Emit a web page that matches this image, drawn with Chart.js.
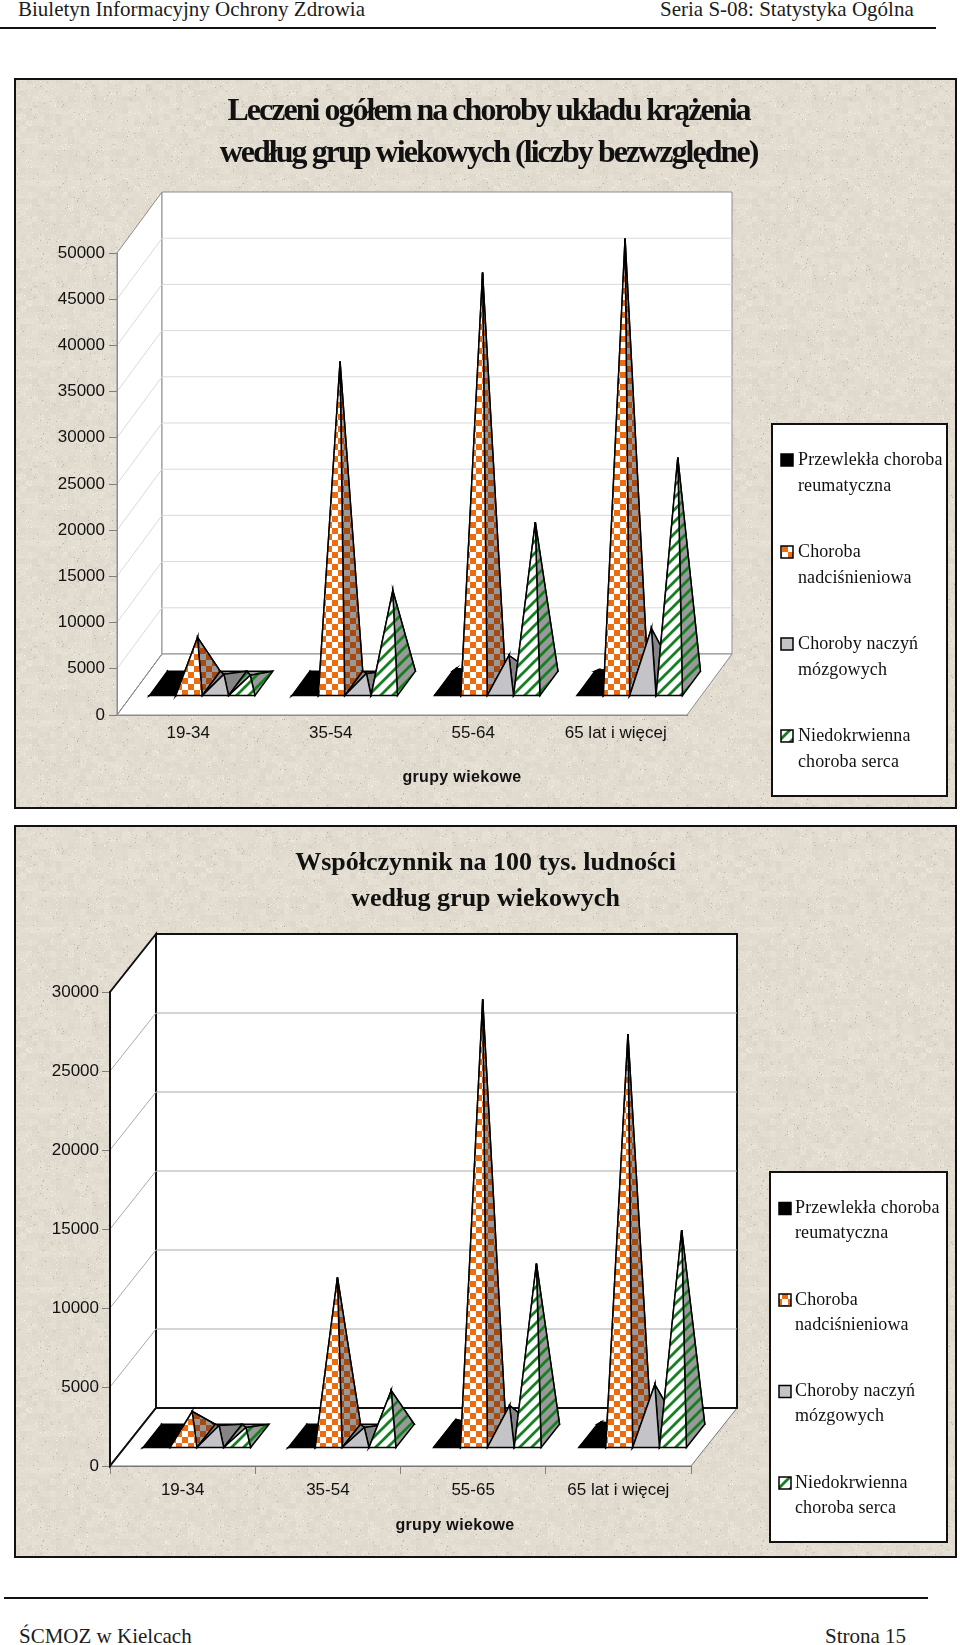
<!DOCTYPE html>
<html>
<head>
<meta charset="utf-8">
<title>Leczeni na choroby układu krążenia</title>
<script src="https://cdn.jsdelivr.net/npm/chart.js@4/dist/chart.umd.js"></script>
<style>
	html, body { margin: 0; padding: 0; background: #fff; overflow: hidden; }
	body { width: 960px; height: 1645px; position: relative; }
	canvas { position: absolute; left: 14px; }
	#absolute { top: 78px; }
	#rate { top: 825px; }
	.txt { position: absolute; font-family: "Liberation Serif", serif; font-size: 21px; line-height: 24px; color: #1c1c1c; white-space: nowrap; }
	.rule { position: absolute; height: 2px; background: #111; }
</style>
</head>
<body>
<div class="txt" style="left:18px;top:-3px">Biuletyn Informacyjny Ochrony Zdrowia</div>
<div class="txt" style="left:660px;top:-3px">Seria S-08: Statystyka Ogólna</div>
<div class="rule" style="left:0;top:27px;width:936px"></div>
<canvas id="absolute" width="943" height="731"></canvas>
<canvas id="rate" width="943" height="733"></canvas>
<div class="rule" style="left:4px;top:1597px;width:924px"></div>
<div class="txt" style="left:19px;top:1624px">ŚCMOZ w Kielcach</div>
<div class="txt" style="left:825px;top:1624px">Strona 15</div>
<script>
var seriesNames = [
	["Przewlekła choroba", "reumatyczna"],
	["Choroba", "nadciśnieniowa"],
	["Choroby naczyń", "mózgowych"],
	["Niedokrwienna", "choroba serca"]
];
var axisName = "grupy wiekowe";

// top chart
var ages1 = ["19-34", "35-54", "55-64", "65 lat i więcej"];
var title1 = ["Leczeni ogółem na choroby układu krążenia", "według grup wiekowych (liczby bezwzględne)"];
var rheum1 = [100, 300, 1730, 1600];
var hyper1 = [5090, 34960, 44590, 48270];
var cerebro1 = [1100, 1200, 3140, 6060];
var ischemic1 = [1000, 10170, 17580, 24560];

// bottom chart
var ages2 = ["19-34", "35-54", "55-65", "65 lat i więcej"];
var title2 = ["Współczynnik na 100 tys. ludności", "według grup wiekowych"];
var rheum2 = [50, 100, 1100, 940];
var hyper2 = [1615, 10100, 27700, 25500];
var cerebro2 = [730, 600, 2000, 3320];
var ischemic2 = [600, 2940, 10980, 13100];

function hash(x, y) {
	var s = Math.sin(x * 12.9898 + y * 78.233) * 43758.5453;
	return s - Math.floor(s);
}

function makeTile(size, paint) {
	var c = document.createElement("canvas");
	c.width = c.height = size;
	paint(c.getContext("2d"), size);
	return c;
}

// paper background of both panels
function paperPattern(ctx) {
	var tile = makeTile(180, function(t, size) {
		var img = t.createImageData(size, size);
		for (var y = 0; y < size; y++) {
			for (var x = 0; x < size; x++) {
				var n = hash(x, y);
				var b = hash(Math.floor(x / 6), Math.floor(y / 6));
				var v = 221 + (n - 0.5) * 6 + (b - 0.5) * 8;
				if (n > 0.98) v += 16;
				if (n < 0.006) v -= 36;
				var i = (y * size + x) * 4;
				img.data[i] = v + 5;
				img.data[i + 1] = v - 1;
				img.data[i + 2] = v - 13;
				img.data[i + 3] = 255;
			}
		}
		t.putImageData(img, 0, 0);
	});
	return ctx.createPattern(tile, "repeat");
}

function checkPattern(ctx, a, b) {
	return ctx.createPattern(makeTile(12, function(t, s) {
		t.fillStyle = b;
		t.fillRect(0, 0, s, s);
		t.fillStyle = a;
		t.fillRect(0, 0, s / 2, s / 2);
		t.fillRect(s / 2, s / 2, s / 2, s / 2);
	}), "repeat");
}

function stripePattern(ctx, a, b) {
	return ctx.createPattern(makeTile(12, function(t, s) {
		t.fillStyle = b;
		t.fillRect(0, 0, s, s);
		t.strokeStyle = a;
		t.lineWidth = 2.8;
		t.beginPath();
		t.moveTo(-3, 3); t.lineTo(3, -3);
		t.moveTo(-3, 15); t.lineTo(15, -3);
		t.moveTo(9, 15); t.lineTo(15, 9);
		t.stroke();
	}), "repeat");
}

function faceFills(ctx) {
	return [
		{ front: "#000", side: "#000" },
		{ front: checkPattern(ctx, "#ee6c10", "#fff"), side: checkPattern(ctx, "#a64a12", "#999999") },
		{ front: "#c4c4c8", side: "#858585" },
		{ front: stripePattern(ctx, "#158021", "#fff"), side: stripePattern(ctx, "#158021", "#999999") }
	];
}

function poly(ctx, pts, fill) {
	ctx.beginPath();
	ctx.moveTo(pts[0][0], pts[0][1]);
	for (var i = 1; i < pts.length; i++) ctx.lineTo(pts[i][0], pts[i][1]);
	ctx.closePath();
	if (fill) {
		ctx.fillStyle = fill;
		ctx.fill();
	}
	ctx.stroke();
}

// walls and floor behind the marks, using the y scale for the grid
var wallsPlugin = {
	id: "walls",
	beforeDraw: function(chart, args, o) {
		var ctx = chart.ctx, a = chart.chartArea, y = chart.scales.y;
		ctx.save();
		ctx.fillStyle = paperPattern(ctx);
		ctx.fillRect(0, 0, chart.width, chart.height);
		ctx.strokeStyle = "#111";
		ctx.lineWidth = 2;
		ctx.strokeRect(1, 1, chart.width - 2, chart.height - 2);

		ctx.lineWidth = o.wallWidth;
		ctx.strokeStyle = o.wallColor;
		poly(ctx, [[a.left, a.bottom], [a.left + o.dx, a.bottom + o.dy], [a.left + o.dx, a.top + o.dy], [a.left, a.top]], "#fff");
		poly(ctx, [[a.left + o.dx, a.bottom + o.dy], [a.right + o.dx, a.bottom + o.dy], [a.right + o.dx, a.top + o.dy], [a.left + o.dx, a.top + o.dy]], "#fff");

		ctx.lineWidth = 1;
		ctx.strokeStyle = o.gridColor;
		ctx.beginPath();
		for (var i = 1; i < y.ticks.length - 1; i++) {
			var p = y.getPixelForTick(i);
			ctx.moveTo(a.left, p);
			ctx.lineTo(a.left + o.dx, p + o.dy);
			ctx.lineTo(a.right + o.dx, p + o.dy);
		}
		ctx.stroke();

		ctx.lineWidth = o.floorWidth;
		ctx.strokeStyle = o.floorColor;
		ctx.fillStyle = "#fff";
		ctx.beginPath();
		ctx.moveTo(a.left, a.bottom);
		ctx.lineTo(a.right, a.bottom);
		ctx.lineTo(a.right + o.dx, a.bottom + o.dy);
		ctx.lineTo(a.left + o.dx, a.bottom + o.dy);
		ctx.closePath();
		ctx.fill();
		ctx.beginPath();
		ctx.moveTo(a.left + o.dx, a.bottom + o.dy);
		ctx.lineTo(a.left, a.bottom);
		ctx.lineTo(a.right, a.bottom);
		ctx.lineTo(a.right + o.dx, a.bottom + o.dy);
		ctx.stroke();
		ctx.lineWidth = o.wallWidth;
		ctx.strokeStyle = o.wallColor;
		ctx.beginPath();
		ctx.moveTo(a.left + o.dx, a.bottom + o.dy);
		ctx.lineTo(a.right + o.dx, a.bottom + o.dy);
		ctx.moveTo(a.left + o.dx, a.bottom + o.dy);
		ctx.lineTo(a.left, a.bottom);
		ctx.stroke();
		ctx.restore();
	},
	// title spans the whole panel, not just the padded plot side
	afterLayout: function(chart, args, o) {
		var t = chart.titleBlock;
		t.left = 0;
		t.right = chart.width + o.titleShift * 2;
		if (!t.patched) {
			var draw = t.draw;
			t.draw = function() {
				chart.ctx.letterSpacing = o.titleSpacing;
				draw.call(t);
				chart.ctx.letterSpacing = "0px";
			};
			t.patched = true;
		}
	}
};

// 3D pyramids placed on the bar elements that the scales have positioned
var pyramidPlugin = {
	id: "pyramids",
	afterDatasetsDraw: function(chart, args, o) {
		var ctx = chart.ctx, fills = faceFills(ctx), f0 = 0.31, f1 = 0.71;
		ctx.save();
		ctx.strokeStyle = "#000";
		ctx.lineWidth = 1.5;
		ctx.lineJoin = "miter";
		for (var i = 0; i < chart.data.labels.length; i++) {
			chart.data.datasets.forEach(function(ds, d) {
				var el = chart.getDatasetMeta(d).data[i];
				var l = el.x - el.width / 2, r = el.x + el.width / 2;
				var fl = [l + o.dx * f0, el.base + o.dy * f0], fr = [r + o.dx * f0, el.base + o.dy * f0];
				var bl = [l + o.dx * f1, el.base + o.dy * f1], br = [r + o.dx * f1, el.base + o.dy * f1];
				var top = [el.x + o.dx * 0.5, el.y + o.dy * 0.5];
				poly(ctx, [bl, br, top], fills[d].side);
				poly(ctx, [fl, bl, top], fills[d].side);
				poly(ctx, [fr, br, top], fills[d].side);
				poly(ctx, [fl, fr, top], fills[d].front);
			});
		}
		ctx.restore();
	}
};

// axis name and the boxed two line legend
var sidePlugin = {
	id: "side",
	afterDraw: function(chart, args, o) {
		var ctx = chart.ctx, fills = faceFills(ctx);
		ctx.save();
		ctx.fillStyle = "#111";
		ctx.textAlign = "center";
		ctx.textBaseline = "middle";
		ctx.font = "bold 16px 'Liberation Sans'";
		ctx.letterSpacing = "0.35px";
		ctx.fillText(axisName, o.axisX, o.axisY);
		ctx.letterSpacing = "0px";

		ctx.fillStyle = "#fff";
		ctx.strokeStyle = "#111";
		ctx.lineWidth = 2;
		ctx.fillRect(o.boxX, o.boxY, o.boxW, o.boxH);
		ctx.strokeRect(o.boxX, o.boxY, o.boxW, o.boxH);

		ctx.textAlign = "left";
		ctx.font = "18px 'Liberation Serif'";
		ctx.letterSpacing = "0.12px";
		seriesNames.forEach(function(lines, i) {
			var y = o.firstY + i * o.step;
			ctx.fillStyle = fills[i].front;
			ctx.lineWidth = 1.5;
			ctx.strokeStyle = "#000";
			ctx.fillRect(o.boxX + 9, y - 6, 12, 12);
			ctx.strokeRect(o.boxX + 9, y - 6, 12, 12);
			ctx.fillStyle = "#111";
			lines.forEach(function(line, k) {
				ctx.fillText(line, o.boxX + o.textGap, y + k * o.lineH);
			});
		});
		ctx.restore();
	}
};

function drawPanel(id, ages, title, max, step, values, opts) {
	var datasets = values.map(function(v, i) {
		return {
			label: seriesNames[i].join(" "),
			data: v,
			backgroundColor: "transparent",
			borderWidth: 0,
			barPercentage: 1,
			categoryPercentage: 0.74
		};
	});
	var tickFont = { family: "Liberation Sans", size: 17 };
	new Chart(document.getElementById(id), {
		type: "bar",
		data: { labels: ages, datasets: datasets },
		plugins: [wallsPlugin, pyramidPlugin, sidePlugin],
		options: {
			responsive: false,
			animation: false,
			layout: { padding: { left: 0, right: opts.right, top: 0, bottom: 0 } },
			plugins: {
				legend: { display: false },
				tooltip: { enabled: false },
				title: {
					display: true,
					text: title,
					color: "#111",
					font: { family: "Liberation Serif", weight: "bold", size: opts.titleSize, lineHeight: opts.titleLine },
					padding: opts.titlePad
				},
				walls: {
					dx: opts.dx, dy: opts.dy, wallColor: opts.wallColor, wallWidth: opts.wallWidth,
					floorColor: opts.floorColor, floorWidth: 1, gridColor: opts.gridColor,
					titleSpacing: opts.titleSpacing, titleShift: opts.titleShift
				},
				pyramids: { dx: opts.dx, dy: opts.dy },
				side: opts.side
			},
			scales: {
				x: {
					afterFit: function(axis) { axis.height = opts.xHeight; },
					grid: { drawOnChartArea: false, drawTicks: opts.xTicks, tickLength: 8, color: "#808080" },
					border: { display: true, color: opts.floorColor },
					ticks: { font: tickFont, color: "#111", padding: opts.xPad, maxRotation: 0, autoSkip: false }
				},
				y: {
					min: 0,
					max: max,
					afterFit: function(axis) { axis.width = opts.yWidth; },
					grid: { drawOnChartArea: false, tickLength: 8, color: "#808080" },
					border: { display: true, color: opts.wallColor, width: opts.wallWidth },
					ticks: {
						font: tickFont, color: "#111", padding: opts.yPad, stepSize: step, autoSkip: false,
						callback: function(v) { return String(v); }
					}
				}
			}
		}
	});
}

drawPanel("absolute", ages1, title1, 50000, 5000, [rheum1, hyper1, cerebro1, ischemic1], {
	right: 270, yWidth: 103, xHeight: 94, dx: 45, dy: -61,
	titleSize: 32, titleLine: 42 / 32, titlePad: { top: 13, bottom: 78 },
	titleSpacing: "-1.97px", titleShift: 3,
	wallColor: "#8c8c8c", wallWidth: 1, floorColor: "#8c8c8c", gridColor: "#dadada",
	xTicks: false, xPad: 8, yPad: 4,
	side: { axisX: 448, axisY: 700, boxX: 758, boxY: 346, boxW: 175, boxH: 372, firstY: 382, step: 92, lineH: 26, textGap: 26 }
});

drawPanel("rate", ages2, title2, 30000, 5000, [rheum2, hyper2, cerebro2, ischemic2], {
	right: 266, yWidth: 96, xHeight: 92, dx: 46, dy: -58,
	titleSize: 26, titleLine: 36.5 / 26, titlePad: { top: 20, bottom: 74 },
	titleSpacing: "0px", titleShift: 0,
	wallColor: "#111", wallWidth: 2, floorColor: "#777", gridColor: "#aaaaaa",
	xTicks: true, xPad: 6, yPad: 3,
	side: { axisX: 441, axisY: 701, boxX: 756, boxY: 347, boxW: 177, boxH: 370, firstY: 383.5, step: 91.5, lineH: 25, textGap: 25 }
});
</script>
</body>
</html>
